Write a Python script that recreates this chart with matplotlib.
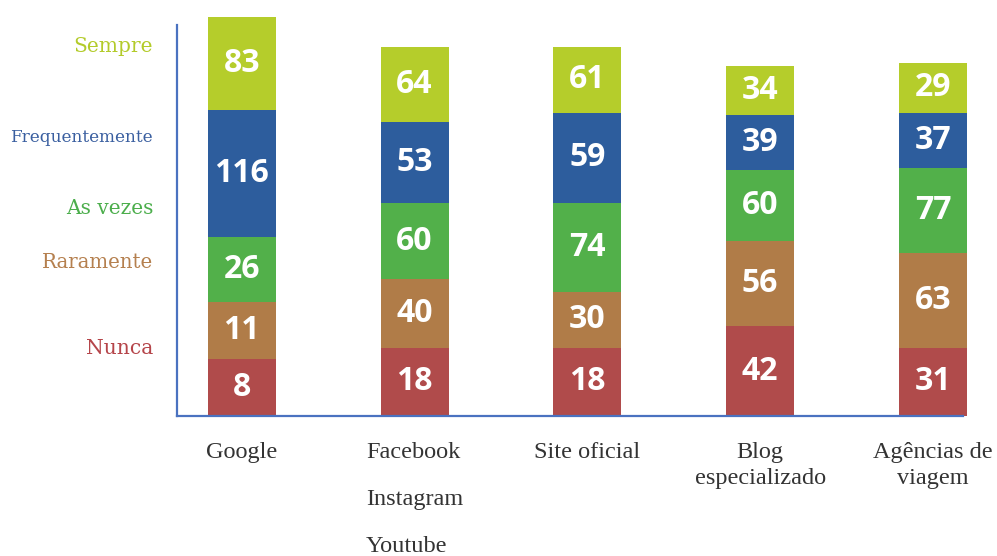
import matplotlib.pyplot as plt
import numpy as np

# Data
categories = ["Google", "Facebook\nInstagram\nYoutube", "Site oficial",
              "Blog\nespecializado", "Agências de\nviagem"]
series = ["Nunca", "Raramente", "As vezes", "Frequentemente", "Sempre"]

# counts written inside the segments
nunca = [8, 18, 18, 42, 31]
raramente = [11, 40, 30, 56, 63]
as_vezes = [26, 60, 74, 60, 77]
frequentemente = [116, 53, 59, 39, 37]
sempre = [83, 64, 61, 34, 29]

# segment heights as drawn in the original (not proportional to the counts)
h_nunca = [57, 68, 68, 90, 68]
h_raramente = [57, 69, 56, 85, 95]
h_as_vezes = [65, 76, 89, 71, 85]
h_frequentemente = [127, 81, 90, 55, 55]
h_sempre = [93, 75, 66, 49, 50]

counts = [nunca, raramente, as_vezes, frequentemente, sempre]
heights = [h_nunca, h_raramente, h_as_vezes, h_frequentemente, h_sempre]
bar_colors = ["#b04b4b", "#b07c48", "#52b04a", "#2d5d9d", "#b5cd2b"]
text_colors = ["#b5454a", "#b5804f", "#4cae4c", "#3a5fa0", "#b3cb2a"]

# Plotting
fig = plt.figure(figsize=(9.97, 5.56), dpi=100)
ax = fig.add_axes([177 / 997, 1 - 416 / 556, (963 - 177) / 997, (416 - 25) / 556])

x = np.arange(len(categories))
bottom = np.zeros(len(categories))
for vals, hs, col in zip(counts, heights, bar_colors):
    ax.bar(x, hs, 0.393, bottom=bottom, color=col, clip_on=False)
    for xi, b, h, v in zip(x, bottom, hs, vals):
        ax.text(xi, b + h / 2, str(v), ha="center", va="center", color="white",
                fontsize=23, fontweight="bold", family="Open Sans")
    bottom += hs

ax.set_xlim(-0.375, 4.174)
ax.set_ylim(0, 391)

for s in ["top", "right"]:
    ax.spines[s].set_visible(False)
for s in ["left", "bottom"]:
    ax.spines[s].set_color("#4a72c0")
    ax.spines[s].set_linewidth(1.6)

ax.set_yticks([])
ax.set_xticks(x)
ax.set_xticklabels(categories, family="Liberation Serif", fontsize=17.5, color="#333333")
ax.tick_params(axis="x", length=0, pad=19)
for i, lab in enumerate(ax.get_xticklabels()):
    if i == 1:
        lab.set_linespacing(2.6)
        lab.set_multialignment("left")
    else:
        lab.set_linespacing(1.3)

# series names on the left, each in its colour
label_y = [348, 262, 208, 137, 47]
label_size = [14.6, 14.2, 14.5, 12.2, 14.5]
for name, col, yy, fs in zip(series, text_colors, label_y, label_size):
    fig.text(153 / 997, 1 - yy / 556, name, ha="right", va="center", color=col,
             fontsize=fs, family="DejaVu Serif")

plt.savefig("out.png")
